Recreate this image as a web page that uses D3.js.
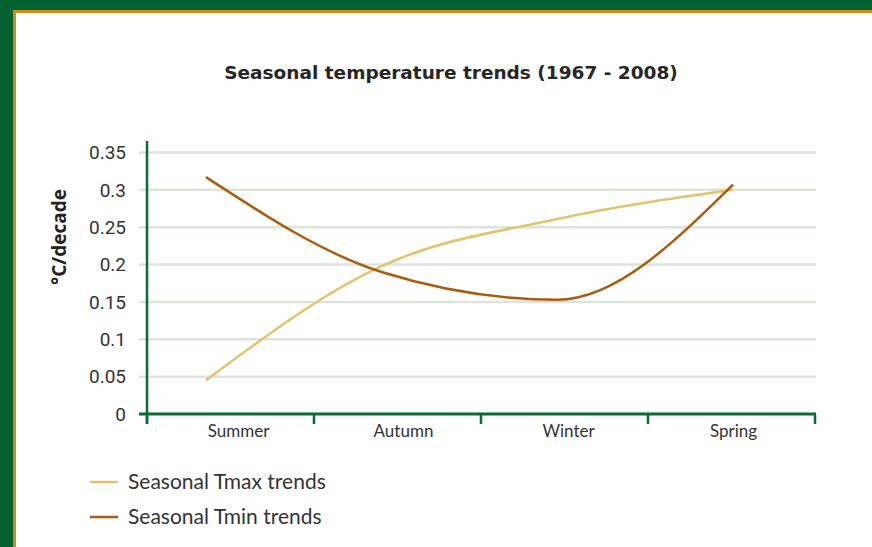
<!DOCTYPE html>
<meta charset="utf-8">
<script src="https://d3js.org/d3.v7.min.js"></script>
<style>
  body { margin: 0; }
</style>
<div id="chart"></div>
<script>

    // data
    var seasons = ["Summer", "Autumn", "Winter", "Spring"];
    var tmax = [0.045, 0.198, 0.261, 0.300];
    var tmin = [0.317, 0.190, 0.153, 0.307];
    var yTicks = [0, 0.05, 0.1, 0.15, 0.2, 0.25, 0.3, 0.35];
    var yTickLabels = ["0", "0.05", "0.1", "0.15", "0.2", "0.25", "0.3", "0.35"];
    var seriesNames = ["Seasonal Tmax trends", "Seasonal Tmin trends"];
    var seriesColors = ["#e2c46c", "#a95b0e"];

    var W = 872, H = 547;

    var svg = d3.select("#chart")
        .append("svg")
            .attr("width", W)
            .attr("height", H);

    // frame: green border, gold rule, white panel
    svg.append("rect").attr("width", W).attr("height", H).attr("fill", "#036330");
    svg.append("rect").attr("x", 13).attr("y", 10).attr("width", W).attr("height", H).attr("fill", "#c8911e");
    svg.append("rect").attr("x", 16).attr("y", 13).attr("width", W).attr("height", H).attr("fill", "#ffffff");

    // title
    svg.append("text")
        .attr("x", 451)
        .attr("y", 79)
        .attr("text-anchor", "middle")
        .style("font", "bold 18.5px 'DejaVu Sans'")
        .attr("fill", "#262626")
        .text("Seasonal temperature trends (1967 - 2008)");

    // scales
    var x = d3.scaleBand()
        .domain(seasons)
        .range([147, 815]);

    var xp = d3.scalePoint()
        .domain(seasons)
        .range([206, 733]);

    var y = d3.scaleLinear()
        .domain([0, 0.35])
        .range([414, 152.5]);

    // gridlines
    svg.append("g")
        .selectAll("line")
        .data(yTicks.slice(1))
        .enter()
        .append("line")
            .attr("x1", 139)
            .attr("x2", 816)
            .attr("y1", function(d) { return y(d) })
            .attr("y2", function(d) { return y(d) })
            .attr("stroke", "#dce5dc")
            .attr("stroke-width", 2.5);

    // y tick labels
    svg.append("g")
        .selectAll("text")
        .data(yTicks)
        .enter()
        .append("text")
            .attr("x", 126)
            .attr("y", function(d) { return y(d) })
            .attr("dy", "0.36em")
            .attr("text-anchor", "end")
            .style("font", "19px Roboto")
            .attr("fill", "#333333")
            .text(function(d, i) { return yTickLabels[i] });

    // y axis title
    svg.append("text")
        .attr("transform", "translate(66,237) rotate(-90)")
        .attr("text-anchor", "middle")
        .style("font", "bold 19px 'Open Sans'")
        .attr("fill", "#222222")
        .text("°C/decade");

    // x axis
    var xAxis = svg.append("g")
        .attr("transform", "translate(0," + y(0) + ")");

    xAxis.append("line")
        .attr("x1", 139)
        .attr("x2", 816)
        .attr("stroke", "#0b6b36")
        .attr("stroke-width", 3);

    var bounds = seasons.map(function(d) { return x(d) }).concat([x.range()[1]]);
    xAxis.selectAll(".tk")
        .data(bounds)
        .enter()
        .append("line")
            .attr("class", "tk")
            .attr("x1", function(d) { return d })
            .attr("x2", function(d) { return d })
            .attr("y1", 0)
            .attr("y2", 10)
            .attr("stroke", "#0b6b36")
            .attr("stroke-width", 2.5);

    xAxis.selectAll(".lbl")
        .data(seasons)
        .enter()
        .append("text")
            .attr("class", "lbl")
            .attr("x", function(d, i) { return x(d) + x.bandwidth() / 2 + 8 - 2 * i })
            .attr("y", 23)
            .attr("text-anchor", "middle")
            .style("font", "17px Lato")
            .attr("fill", "#333333")
            .text(function(d) { return d });

    // y axis line
    svg.append("line")
        .attr("x1", 147)
        .attr("x2", 147)
        .attr("y1", 141)
        .attr("y2", 424)
        .attr("stroke", "#0b6b36")
        .attr("stroke-width", 2.5);

    // lines
    var line = d3.line()
        .x(function(d, i) { return xp(seasons[i]) })
        .y(function(d) { return y(d) })
        .curve(d3.curveMonotoneX);

    [tmax, tmin].forEach(function(s, i) {
        svg.append("path")
            .datum(s)
            .attr("d", line)
            .attr("fill", "none")
            .attr("stroke", seriesColors[i])
            .attr("stroke-width", 2.5);
    });

    // legend
    var legend = svg.append("g");
    seriesNames.forEach(function(name, i) {
        var ly = 482 + i * 35;
        legend.append("line")
            .attr("x1", 90)
            .attr("x2", 118)
            .attr("y1", ly)
            .attr("y2", ly)
            .attr("stroke", seriesColors[i])
            .attr("stroke-width", 2.5);
        legend.append("text")
            .attr("x", 128)
            .attr("y", ly)
            .attr("dy", "0.35em")
            .style("font", "21px Lato")
            .attr("fill", "#333333")
            .text(name);
    });

</script>
